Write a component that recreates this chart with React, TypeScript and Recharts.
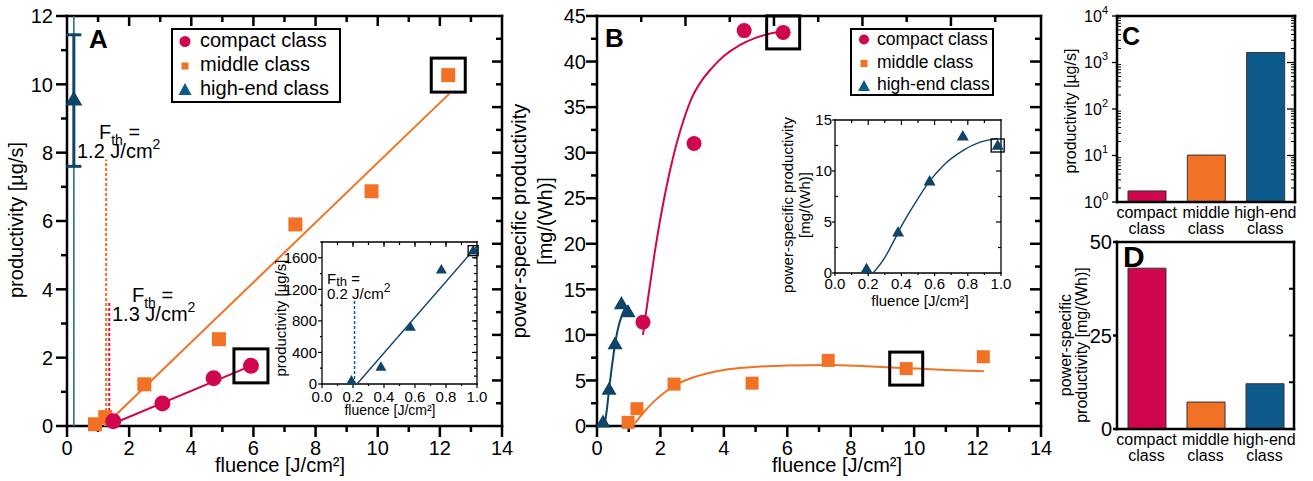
import React from "react";
import {
  ComposedChart,
  Bar,
  Cell,
  Scatter,
  Line,
  XAxis,
  YAxis,
  ReferenceLine,
  ErrorBar,
} from "recharts";

const FONT = "'Liberation Sans', Arial, Helvetica, sans-serif";
const INK = "#000000";
const COMPACT = "#d0064f";
const MIDDLE = "#f17224";
const THRESH_RED = "#e4143c";
const HIGH = "#0e4468";
const HIGH_BAR = "#0c5a8c";

// ---- panel A: productivity [µg/s] vs fluence [J/cm²]
const aCompact = [
  { x: 1.49, y: 0.14 },
  { x: 3.07, y: 0.66 },
  { x: 4.72, y: 1.4 },
  { x: 5.92, y: 1.76 },
];
const aMiddle = [
  { x: 0.9, y: 0.05 },
  { x: 1.23, y: 0.26 },
  { x: 2.49, y: 1.22 },
  { x: 4.89, y: 2.54 },
  { x: 7.35, y: 5.9 },
  { x: 9.8, y: 6.87 },
  { x: 12.27, y: 10.27 },
];
const aHighEnd = [{ x: 0.22, y: 9.55, err: [1.95, 1.9] }];
const aCompactFit = [
  { x: 1.3, y: 0 },
  { x: 5.92, y: 1.76 },
];
const aMiddleFit = [
  { x: 1.2, y: 0 },
  { x: 12.3, y: 9.72 },
];
const aHighEndThreshold = 0.22;
const aThresholdX = [1.26, 1.36];
const aThresholdTop = [7.8, 3.6];
const aHighlighted = [
  { x: 5.92, y: 1.76 },
  { x: 12.27, y: 10.27 },
];

// inset of A: high-end class
const iaHighEnd = [
  { x: 0.19, y: 40 },
  { x: 0.38, y: 216 },
  { x: 0.57, y: 724 },
  { x: 0.77, y: 1448 },
  { x: 0.975, y: 1690 },
];
const iaFit = [
  { x: 0.226, y: 0 },
  { x: 1.0, y: 1750 },
];
const iaThresholdX = 0.21;
const iaThresholdTop = 1070;
const iaHighlighted = [{ x: 0.975, y: 1690 }];

// ---- panel B: power-specific productivity [mg/(Wh)] vs fluence
const bCompact = [
  { x: 1.45, y: 11.4 },
  { x: 3.06, y: 31.0 },
  { x: 4.64, y: 43.4 },
  { x: 5.87, y: 43.2 },
];
const bMiddle = [
  { x: 0.98, y: 0.4 },
  { x: 1.26, y: 1.9 },
  { x: 2.43, y: 4.6 },
  { x: 4.89, y: 4.7 },
  { x: 7.29, y: 7.2 },
  { x: 9.75, y: 6.3 },
  { x: 12.18, y: 7.6 },
];
const bHighEnd = [
  { x: 0.19, y: 0.4 },
  { x: 0.38, y: 4.0 },
  { x: 0.57, y: 9.0 },
  { x: 0.77, y: 13.4 },
  { x: 0.98, y: 12.5 },
];
const bCompactFit = [
  { x: 1.45, y: 10.0 },
  { x: 1.6, y: 13.8 },
  { x: 1.8, y: 18.6 },
  { x: 2.0, y: 22.8 },
  { x: 2.2, y: 26.4 },
  { x: 2.4, y: 29.5 },
  { x: 2.6, y: 32.1 },
  { x: 2.8, y: 34.3 },
  { x: 3.0, y: 36.1 },
  { x: 3.3, y: 37.9 },
  { x: 3.6, y: 39.2 },
  { x: 4.0, y: 40.6 },
  { x: 4.5, y: 41.8 },
  { x: 5.0, y: 42.6 },
  { x: 5.5, y: 43.1 },
  { x: 5.8, y: 43.3 },
];
const bMiddleFit = [
  { x: 1.2, y: 0.3 },
  { x: 1.5, y: 1.6 },
  { x: 1.8, y: 2.7 },
  { x: 2.1, y: 3.6 },
  { x: 2.43, y: 4.4 },
  { x: 3.0, y: 5.3 },
  { x: 3.5, y: 5.8 },
  { x: 4.0, y: 6.15 },
  { x: 4.83, y: 6.45 },
  { x: 6.0, y: 6.65 },
  { x: 7.3, y: 6.7 },
  { x: 8.5, y: 6.55 },
  { x: 9.75, y: 6.35 },
  { x: 11.0, y: 6.15 },
  { x: 12.2, y: 6.0 },
];
const bHighEndFit = [
  { x: 0.23, y: 0 },
  { x: 0.3, y: 1.5 },
  { x: 0.35, y: 3.0 },
  { x: 0.4, y: 4.6 },
  { x: 0.45, y: 6.0 },
  { x: 0.5, y: 7.3 },
  { x: 0.57, y: 9.0 },
  { x: 0.65, y: 10.5 },
  { x: 0.77, y: 12.0 },
  { x: 0.87, y: 12.8 },
  { x: 0.98, y: 13.2 },
];
const bHighlighted = [
  { x: 5.87, y: 43.2 },
  { x: 9.75, y: 6.3 },
];
const ibHighlighted = [{ x: 0.98, y: 12.5 }];

// ---- panels C and D: class comparison
const classNames = ["compact class", "middle class", "high-end class"];
const cProductivity = [1.73, 10.2, 1640];
const dPowerSpecific = [43.0, 7.2, 12.1];
const classColors = [COMPACT, MIDDLE, HIGH_BAR];

const cData = classNames.map((name, i) => ({ name, value: cProductivity[i] }));
const dData = classNames.map((name, i) => ({ name, value: dPowerSpecific[i] }));

// ---- helpers
const range = (from: number, to: number, step: number) => {
  const out: number[] = [];
  for (let v = from; v <= to + 1e-9; v += step) out.push(Math.round(v * 10000) / 10000);
  return out;
};
const decades = [1, 10, 100, 1000, 10000];
const logMinor = [2, 3, 4, 5, 6, 7, 8, 9].flatMap((m) => [m, m * 10, m * 100, m * 1000]).sort((a, b) => a - b);

// tick labels drawn by the axes
type LabelCfg = {
  side: "bottom" | "left";
  off: number;
  gap: number;
  font: number;
  fmt: (v: number) => React.ReactNode;
};
function makeLabel(c: LabelCfg) {
  return function AxisLabel(props: any) {
    const { x, y, payload } = props;
    const v = Number(payload?.value);
    if (c.side === "bottom")
      return (
        <text x={x} y={y + c.off + c.gap + c.font * 0.72} textAnchor="middle" fontSize={c.font} fontFamily={FONT} fill={INK}>
          {c.fmt(v)}
        </text>
      );
    return (
      <text x={x - c.off - c.gap} y={y + c.font * 0.36} textAnchor="end" fontSize={c.font} fontFamily={FONT} fill={INK}>
        {c.fmt(v)}
      </text>
    );
  };
}

// tick marks: a point on the frame, drawn as a short stroke of (dx, dy) pixels
const tickShape = (dx: number, dy: number, sw: number) => (p: any) => (
  <line x1={p.cx} y1={p.cy} x2={p.cx + dx} y2={p.cy + dy} stroke={INK} strokeWidth={sw} />
);
function tickMarks(key: string, pts: Record<string, number>[], dx: number, dy: number, sw: number, xAxisId?: string) {
  return (
    <Scatter
      key={key}
      data={pts}
      xAxisId={xAxisId ?? 0}
      shape={tickShape(dx, dy, sw)}
      legendType="none"
      isAnimationActive={false}
    />
  );
}
function frame(xd: [number | string, number | string], yd: [number, number], sw: number, xAxisId?: string) {
  const common = { stroke: INK, strokeWidth: sw, strokeLinecap: "square" as const, ifOverflow: "visible" as const, xAxisId: xAxisId ?? 0 };
  return [
    <ReferenceLine key="f-b" y={yd[0]} {...common} />,
    <ReferenceLine key="f-t" y={yd[1]} {...common} />,
    <ReferenceLine key="f-l" x={xd[0] as any} {...common} />,
    <ReferenceLine key="f-r" x={xd[1] as any} {...common} />,
  ];
}
const atX = (x: number, ys: number[], k = "y") => ys.map((y) => ({ x, [k]: y }));
const atY = (y: number, xs: number[]) => xs.map((x) => ({ x, y }));

function catTick(props: any) {
  const { x, y, payload } = props;
  const [l1, l2] = String(payload.value).split(" ");
  return (
    <text x={x} y={y + 16} textAnchor="middle" fontSize={16} fontFamily={FONT} fill={INK}>
      <tspan x={x}>{l1}</tspan>
      <tspan x={x} dy={16}>
        {l2}
      </tspan>
    </text>
  );
}

const circle = (r: number, fill: string) => (p: any) => <circle cx={p.cx} cy={p.cy} r={r} fill={fill} />;
const square = (s: number, fill: string) => (p: any) => (
  <rect x={p.cx - s / 2} y={p.cy - s / 2} width={s} height={s} fill={fill} />
);
const triangle = (w: number, fill: string) => (p: any) => {
  const h = w * 0.87;
  return (
    <polygon
      points={`${p.cx},${p.cy - h * 0.6} ${p.cx - w / 2},${p.cy + h * 0.4} ${p.cx + w / 2},${p.cy + h * 0.4}`}
      fill={fill}
    />
  );
};
const openBox = (s: number, sw: number) => (p: any) => (
  <rect x={p.cx - s / 2} y={p.cy - s / 2} width={s} height={s} fill="none" stroke={INK} strokeWidth={sw} />
);

const noTick = { interval: 0 as const, tickLine: false, tickSize: 0, tickMargin: 0, axisLine: false };

function PanelA() {
  const xd: [number, number] = [0, 14];
  const yd: [number, number] = [0, 12];
  return (
    <ComposedChart width={520} height={481} margin={{ top: 16, right: 18, bottom: 0, left: 0 }}>
      <XAxis
        {...noTick}
        type="number"
        dataKey="x"
        domain={xd}
        ticks={range(0, 14, 2)}
        height={55}
        tick={makeLabel({ side: "bottom", off: 11, gap: 3.5, font: 20, fmt: (v) => v })}
      />
      <YAxis
        {...noTick}
        type="number"
        dataKey="y"
        domain={yd}
        ticks={range(0, 12, 2)}
        width={67}
        tick={makeLabel({ side: "left", off: 11, gap: 3, font: 20, fmt: (v) => v })}
      />
      {frame(xd, yd, 2.5)}
      {tickMarks("bM", atY(0, range(0, 14, 2)), 0, 11, 2.5)}
      {tickMarks("bm", atY(0, range(1, 13, 2)), 0, 6, 2.5)}
      {tickMarks("tM", atY(12, range(2, 12, 2)), 0, 10, 2.5)}
      {tickMarks("tm", atY(12, range(1, 13, 2)), 0, 6, 2.5)}
      {tickMarks("lM", atX(0, range(0, 12, 2)), -11, 0, 2.5)}
      {tickMarks("lm", atX(0, range(1, 11, 2)), -6, 0, 2.5)}
      {tickMarks("rM", atX(14, range(4 / 3, 32 / 3, 4 / 3)), -10, 0, 2.5)}
      {tickMarks("rm", atX(14, range(2 / 3, 34 / 3, 4 / 3)), -6, 0, 2.5)}
      <ReferenceLine x={aHighEndThreshold} stroke="#2a6a9c" strokeWidth={1.6} />
      {aThresholdX.map((x, i) => (
        <ReferenceLine
          key={i}
          segment={[
            { x, y: 0 },
            { x, y: aThresholdTop[i] },
          ]}
          stroke={i === 0 ? MIDDLE : THRESH_RED}
          strokeWidth={2}
          strokeDasharray="3 2"
        />
      ))}
      <Line data={aMiddleFit} dataKey="y" type="linear" stroke={MIDDLE} strokeWidth={2} dot={false} isAnimationActive={false} />
      <Line data={aCompactFit} dataKey="y" type="linear" stroke={COMPACT} strokeWidth={2} dot={false} isAnimationActive={false} />
      <Scatter data={aMiddle} shape={square(14, MIDDLE)} isAnimationActive={false} />
      <Scatter data={aCompact} shape={circle(8, COMPACT)} isAnimationActive={false} />
      <Scatter data={aHighEnd} shape={triangle(17, HIGH)} isAnimationActive={false}>
        <ErrorBar dataKey="err" direction="y" width={7.5} stroke={HIGH} strokeWidth={3} isAnimationActive={false} />
      </Scatter>
      <Scatter data={aHighlighted} shape={openBox(34, 3)} isAnimationActive={false} />
    </ComposedChart>
  );
}

function InsetA() {
  const xd: [number, number] = [0, 1];
  const yd: [number, number] = [0, 1800];
  return (
    <ComposedChart width={250} height={195} margin={{ top: 10, right: 13, bottom: 0, left: 0 }}>
      <XAxis
        {...noTick}
        type="number"
        dataKey="x"
        domain={xd}
        ticks={range(0, 1, 0.2)}
        height={43}
        tick={makeLabel({ side: "bottom", off: 4, gap: 3.5, font: 15, fmt: (v) => v.toFixed(1) })}
      />
      <YAxis
        {...noTick}
        type="number"
        dataKey="y"
        domain={yd}
        ticks={range(0, 1600, 400)}
        width={82}
        tick={makeLabel({ side: "left", off: 4, gap: 1, font: 15, fmt: (v) => v })}
      />
      {frame(xd, yd, 1.3)}
      {tickMarks("bM", atY(0, range(0, 1, 0.2)), 0, 4, 1.2)}
      {tickMarks("bm", atY(0, range(0.1, 0.9, 0.2)), 0, 2, 1.2)}
      {tickMarks("tM", atY(1800, range(0.2, 0.8, 0.2)), 0, 5, 1.2)}
      {tickMarks("tm", atY(1800, range(0.1, 0.9, 0.1)), 0, 3, 1.2)}
      {tickMarks("lM", atX(0, range(0, 1600, 400)), -4, 0, 1.2)}
      {tickMarks("lm", atX(0, range(200, 1800, 400)), -2, 0, 1.2)}
      {tickMarks("rM", atX(1, range(400, 1600, 400)), -5, 0, 1.2)}
      {tickMarks("rm", atX(1, range(100, 1700, 100)), -3, 0, 1.2)}
      <ReferenceLine
        segment={[
          { x: iaThresholdX, y: 0 },
          { x: iaThresholdX, y: iaThresholdTop },
        ]}
        stroke={HIGH_BAR}
        strokeWidth={1.5}
        strokeDasharray="3 2"
      />
      <Line data={iaFit} dataKey="y" type="linear" stroke={HIGH} strokeWidth={1.4} dot={false} isAnimationActive={false} />
      <Scatter data={iaHighEnd} shape={triangle(11, HIGH)} isAnimationActive={false} />
      <Scatter data={iaHighlighted} shape={openBox(10, 1.3)} isAnimationActive={false} />
    </ComposedChart>
  );
}

function PanelB() {
  const xd: [number, number] = [0, 14];
  const yd: [number, number] = [0, 45];
  return (
    <ComposedChart width={540} height={481} margin={{ top: 16, right: 19, bottom: 0, left: 0 }}>
      <XAxis
        {...noTick}
        type="number"
        dataKey="x"
        domain={xd}
        ticks={range(0, 14, 2)}
        height={55}
        tick={makeLabel({ side: "bottom", off: 11, gap: 3.5, font: 20, fmt: (v) => v })}
      />
      <YAxis
        {...noTick}
        type="number"
        dataKey="y"
        domain={yd}
        ticks={range(0, 45, 5)}
        width={77}
        tick={makeLabel({ side: "left", off: 11, gap: 0, font: 20, fmt: (v) => v })}
      />
      {frame(xd, yd, 2.5)}
      {tickMarks("bM", atY(0, range(0, 14, 2)), 0, 11, 2.5)}
      {tickMarks("bm", atY(0, range(1, 13, 2)), 0, 6, 2.5)}
      {tickMarks("tM", atY(45, range(2.79, 11.16, 2.79)), 0, 10, 2.5)}
      {tickMarks("tm", atY(45, range(1.395, 12.6, 2.79)), 0, 6, 2.5)}
      {tickMarks("lM", atX(0, range(0, 45, 5)), -11, 0, 2.5)}
      {tickMarks("lm", atX(0, range(2.5, 42.5, 5)), -6, 0, 2.5)}
      {tickMarks("rM", atX(14, range(5, 40, 5)), -11, 0, 2.5)}
      {tickMarks("rm", atX(14, range(2.5, 42.5, 5)), -6, 0, 2.5)}
      <Line data={bCompactFit} dataKey="y" type="monotone" stroke={COMPACT} strokeWidth={2} dot={false} isAnimationActive={false} />
      <Line data={bMiddleFit} dataKey="y" type="monotone" stroke={MIDDLE} strokeWidth={2} dot={false} isAnimationActive={false} />
      <Line data={bHighEndFit} dataKey="y" type="monotone" stroke={HIGH} strokeWidth={2} dot={false} isAnimationActive={false} />
      <Scatter data={bMiddle} shape={square(13, MIDDLE)} isAnimationActive={false} />
      <Scatter data={bCompact} shape={circle(7.5, COMPACT)} isAnimationActive={false} />
      <Scatter data={bHighEnd} shape={triangle(15, HIGH)} isAnimationActive={false} />
      <Scatter data={bHighlighted} shape={openBox(33, 3)} isAnimationActive={false} />
    </ComposedChart>
  );
}

function InsetB() {
  const xd: [number, number] = [0, 1];
  const yd: [number, number] = [0, 15];
  return (
    <ComposedChart width={255} height={200} margin={{ top: 10, right: 14, bottom: 0, left: 0 }}>
      <XAxis
        {...noTick}
        type="number"
        dataKey="x"
        domain={xd}
        ticks={range(0, 1, 0.2)}
        height={37}
        tick={makeLabel({ side: "bottom", off: 3, gap: 2, font: 15, fmt: (v) => v.toFixed(1) })}
      />
      <YAxis
        {...noTick}
        type="number"
        dataKey="y"
        domain={yd}
        ticks={range(0, 15, 5)}
        width={75}
        tick={makeLabel({ side: "left", off: 3, gap: 0, font: 15, fmt: (v) => v })}
      />
      {frame(xd, yd, 1.3)}
      {tickMarks("bM", atY(0, range(0, 1, 0.2)), 0, 3, 1.2)}
      {tickMarks("bm", atY(0, range(0.1, 0.9, 0.2)), 0, 2, 1.2)}
      {tickMarks("tM", atY(15, range(0.2, 0.8, 0.2)), 0, 5, 1.2)}
      {tickMarks("tm", atY(15, range(0.1, 0.9, 0.2)), 0, 3, 1.2)}
      {tickMarks("lM", atX(0, range(0, 15, 5)), -3, 0, 1.2)}
      {tickMarks("lm", atX(0, range(2.5, 12.5, 5)), 3, 0, 1.2)}
      {tickMarks("rM", atX(1, range(5, 10, 5)), -5, 0, 1.2)}
      {tickMarks("rm", atX(1, range(2.5, 12.5, 5)), -3, 0, 1.2)}
      <Line data={bHighEndFit} dataKey="y" type="monotone" stroke={HIGH} strokeWidth={1.4} dot={false} isAnimationActive={false} />
      <Scatter data={bHighEnd} shape={triangle(12, HIGH)} isAnimationActive={false} />
      <Scatter data={ibHighlighted} shape={openBox(13, 1.3)} isAnimationActive={false} />
    </ComposedChart>
  );
}

function PanelC() {
  const yd: [number, number] = [1, 10000];
  const fd: [number, number] = [0, 1];
  return (
    <ComposedChart width={263} height={240} data={cData} margin={{ top: 16, right: 18, bottom: 0, left: 0 }}>
      <XAxis {...noTick} dataKey="name" height={38} tick={catTick} />
      <XAxis xAxisId="f" type="number" dataKey="x" domain={fd} hide />
      <YAxis
        {...noTick}
        type="number"
        scale="log"
        dataKey="value"
        domain={yd}
        ticks={decades}
        width={67}
        tick={makeLabel({
          side: "left",
          off: 5,
          gap: 4,
          font: 16,
          fmt: (v) => (
            <>
              10
              <tspan dy={-8} fontSize={11}>
                {Math.round(Math.log10(v))}
              </tspan>
            </>
          ),
        })}
      />
      <Bar dataKey="value" barSize={38} stroke="#333" strokeWidth={1} isAnimationActive={false}>
        {cData.map((_, i) => (
          <Cell key={i} fill={classColors[i]} />
        ))}
      </Bar>
      {frame(fd, yd, 2.5, "f")}
      {tickMarks("lM", atX(0, decades, "value"), -5, 0, 1.3, "f")}
      {tickMarks("lm", atX(0, logMinor, "value"), 4, 0, 1, "f")}
      {tickMarks("rM", atX(1, decades.slice(1, -1), "value"), -8, 0, 1.3, "f")}
      {tickMarks("rm", atX(1, logMinor, "value"), -4, 0, 1, "f")}
    </ComposedChart>
  );
}

function PanelD() {
  const yd: [number, number] = [0, 50];
  const fd: [number, number] = [0, 1];
  return (
    <ComposedChart width={263} height={251} data={dData} margin={{ top: 12, right: 19, bottom: 0, left: 0 }}>
      <XAxis {...noTick} dataKey="name" height={52} tick={catTick} />
      <XAxis xAxisId="f" type="number" dataKey="x" domain={fd} hide />
      <YAxis
        {...noTick}
        type="number"
        dataKey="value"
        domain={yd}
        ticks={range(0, 50, 25)}
        width={67}
        tick={makeLabel({ side: "left", off: 4, gap: 1, font: 20, fmt: (v) => v })}
      />
      <Bar dataKey="value" barSize={38} stroke="#333" strokeWidth={1} isAnimationActive={false}>
        {dData.map((_, i) => (
          <Cell key={i} fill={classColors[i]} />
        ))}
      </Bar>
      {frame(fd, yd, 2.5, "f")}
      {tickMarks("lM", atX(0, range(0, 50, 25), "value"), -4, 0, 2.5, "f")}
      {tickMarks("rM", atX(1, range(12.5, 37.5, 12.5), "value"), -5, 0, 2, "f")}
    </ComposedChart>
  );
}

function Annotations() {
  const t = { fontFamily: FONT, fill: INK } as const;
  return (
    <svg width={1313} height={481} style={{ position: "absolute", left: 0, top: 0, pointerEvents: "none" }}>
      {/* panel letters */}
      <text x={89} y={48} fontSize={26} fontWeight="bold" {...t}>A</text>
      <text x={605} y={47} fontSize={26} fontWeight="bold" {...t}>B</text>
      <text x={1122} y={45} fontSize={25} fontWeight="bold" {...t}>C</text>
      <text x={1123} y={267} fontSize={30} fontWeight="bold" {...t}>D</text>

      {/* axis titles */}
      <text x={16} y={220} fontSize={20} textAnchor="middle" dominantBaseline="central" transform="rotate(-90 16 220)" {...t}>
        productivity [µg/s]
      </text>
      <text x={280} y={472} fontSize={20} textAnchor="middle" {...t}>fluence [J/cm²]</text>
      <text x={519} y={221} fontSize={20} textAnchor="middle" dominantBaseline="central" transform="rotate(-90 519 221)" {...t}>
        power-specific productivity
      </text>
      <text x={545} y={221} fontSize={20} textAnchor="middle" dominantBaseline="central" transform="rotate(-90 545 221)" {...t}>
        [mg/(Wh)]
      </text>
      <text x={837} y={472} fontSize={20} textAnchor="middle" {...t}>fluence [J/cm²]</text>

      {/* inset titles */}
      <text x={280} y={318} fontSize={15} textAnchor="middle" dominantBaseline="central" transform="rotate(-90 280 318)" {...t}>
        productivity [µg/s]
      </text>
      <text x={390} y={415} fontSize={14} textAnchor="middle" {...t}>fluence [J/cm²]</text>
      <text x={787} y={205} fontSize={15} textAnchor="middle" dominantBaseline="central" transform="rotate(-90 787 205)" {...t}>
        power-specific productivity
      </text>
      <text x={804} y={205} fontSize={15} textAnchor="middle" dominantBaseline="central" transform="rotate(-90 804 205)" {...t}>
        [mg/(Wh)]
      </text>
      <text x={920} y={306} fontSize={15} textAnchor="middle" {...t}>fluence [J/cm²]</text>

      {/* C / D titles */}
      <text x={1070} y={111} fontSize={16} textAnchor="middle" dominantBaseline="central" transform="rotate(-90 1070 111)" {...t}>
        productivity [µg/s]
      </text>
      <text x={1065} y={345} fontSize={16} textAnchor="middle" dominantBaseline="central" transform="rotate(-90 1065 345)" {...t}>
        power-specific
      </text>
      <text x={1081} y={345} fontSize={16} textAnchor="middle" dominantBaseline="central" transform="rotate(-90 1081 345)" {...t}>
        productivity [mg/(Wh)]
      </text>

      {/* threshold labels */}
      <text x={99} y={139} fontSize={20} {...t}>
        F<tspan dy={6} fontSize={14}>th</tspan>
        <tspan dy={-6}> =</tspan>
      </text>
      <text x={77} y={158} fontSize={20} {...t}>
        1.2 J/cm<tspan dy={-9} fontSize={14}>2</tspan>
      </text>
      <text x={132} y={302} fontSize={20} {...t}>
        F<tspan dy={6} fontSize={14}>th</tspan>
        <tspan dy={-6}> =</tspan>
      </text>
      <text x={112} y={321} fontSize={20} {...t}>
        1.3 J/cm<tspan dy={-9} fontSize={14}>2</tspan>
      </text>
      <text x={327} y={284} fontSize={15} {...t}>
        F<tspan dy={2} fontSize={13}>th</tspan>
        <tspan dy={-2}> =</tspan>
      </text>
      <text x={327} y={299} fontSize={15} {...t}>
        0.2 J/cm<tspan dy={-7} fontSize={12}>2</tspan>
      </text>

      {/* legend A */}
      <rect x={172} y={29} width={168} height={73} fill="#fff" stroke={INK} strokeWidth={2} />
      <circle cx={185} cy={41.5} r={5.5} fill={COMPACT} />
      <rect x={181.5} y={62.5} width={7} height={7} fill={MIDDLE} />
      <polygon points="185,83 178.5,95 191.5,95" fill={HIGH_BAR} />
      {classNames.map((n, i) => (
        <text key={n} x={200} y={47 + i * 24} fontSize={20} {...t}>
          {n}
        </text>
      ))}

      {/* legend B */}
      <rect x={851} y={29} width={142} height={66} fill="#fff" stroke={INK} strokeWidth={2} />
      <circle cx={864} cy={39.5} r={5} fill={COMPACT} />
      <rect x={860.5} y={60} width={7} height={7} fill={MIDDLE} />
      <polygon points="864,80 858,91 870,91" fill={HIGH_BAR} />
      {classNames.map((n, i) => (
        <text key={n} x={877} y={45 + i * 22.5} fontSize={17.5} {...t}>
          {n}
        </text>
      ))}
    </svg>
  );
}

export default function App() {
  return (
    <div style={{ position: "absolute", left: 0, top: 0, width: 1313, height: 481, background: "#fff", fontFamily: FONT }}>
      <div style={{ position: "absolute", left: 0, top: 0 }}>
        <PanelA />
      </div>
      <div style={{ position: "absolute", left: 520, top: 0 }}>
        <PanelB />
      </div>
      <div style={{ position: "absolute", left: 1050, top: 0 }}>
        <PanelC />
      </div>
      <div style={{ position: "absolute", left: 1050, top: 230 }}>
        <PanelD />
      </div>
      <div style={{ position: "absolute", left: 240, top: 232 }}>
        <InsetA />
      </div>
      <div style={{ position: "absolute", left: 760, top: 110 }}>
        <InsetB />
      </div>
      <Annotations />
    </div>
  );
}
